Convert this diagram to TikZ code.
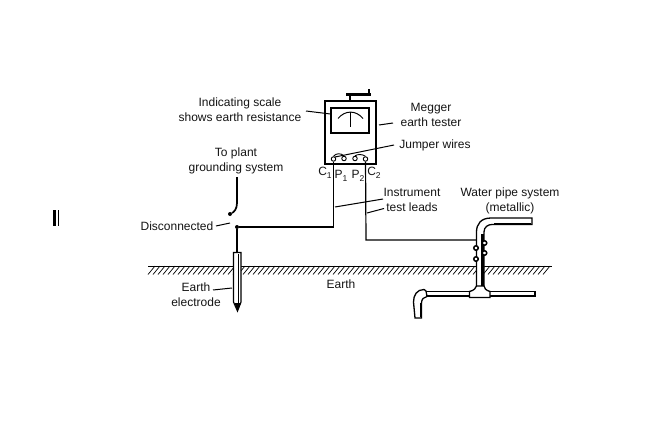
\documentclass[tikz,border=0pt]{standalone}
\usepackage{fontspec}
\setmainfont{Liberation Sans}
\usetikzlibrary{calc}
\newcommand{\lowsub}[1]{\raisebox{-2.5pt}{\fontsize{8.5}{9}\selectfont #1}}
\tikzset{
 lbl/.style={inner sep=0pt,align=center,font=\fontsize{12}{15}\selectfont,text=black!92},
 tlbl/.style={lbl,anchor=base},
 ptr/.style={line width=1pt,black},
 wire/.style={line width=1.2pt,black},
 heavy/.style={line width=1.7pt,black},
 pipe/.style={line width=1.3pt,black,fill=white},
 hatch/.style={line width=.7pt,black},
 term/.style={circle,draw,line width=.9pt,fill=white,minimum size=4.5pt,inner sep=0pt},
 clamp/.style={circle,draw,line width=1.5pt,fill=white,minimum size=4.5pt,inner sep=0pt},
 dotn/.style={circle,fill=black,minimum size=4pt,inner sep=0pt},
}
\begin{document}
\begin{tikzpicture}[x=1pt,y=-1pt]
\useasboundingbox (0,0) rectangle (670,436);
% stray mark
\fill[black] (53,210) rectangle (56,226);
\fill[black] (58,210) rectangle (59,226);
% ground
\draw[line width=1pt] (148,266) -- (552,266);
\foreach \x in {148,153,...,545}{\draw[hatch] (\x,274.5) -- (\x+7,266);}
% crank
\draw[line width=2pt] (350,101) -- (350,94);
\draw[line width=2.6pt] (346,94.5) -- (371,94.5);
\draw[line width=1.8pt] (369,95) -- (369,89);
% meter
\node[draw,line width=1.3pt,fill=white,minimum width=51pt,minimum height=63pt,inner sep=0pt] (meter) at (350.5,132.5) {};
\node[draw,line width=1.3pt,minimum width=38pt,minimum height=25pt,inner sep=0pt] (win) at (350,120.5) {};
\draw[line width=1pt] (338,118.5) .. controls (345,110) and (356,110) .. (363,118.5);
\draw[line width=1pt] (350,112.5) -- (350,127);
% terminals
\node[term] (c1) at (333.5,159) {};
\node[term] (p1) at (344,158.5) {};
\node[term] (p2) at (355,158.5) {};
\node[term] (c2) at (365.5,159) {};
\draw[line width=.9pt] (c1.north) .. controls (336,153) and (341,153) .. (p1.north);
\draw[line width=.9pt] (p2.north) .. controls (358,154) and (362,154) .. (c2.north);
% electrode
\coordinate (tip) at (237.5,311);
\draw[line width=1.2pt,fill=white] (233.5,252.5) -- (241,252.5) -- (241,302) -- (tip) -- (233.5,302) -- cycle;
\draw[line width=1.6pt] (238.5,254) -- (238.5,303);
\fill (tip) -- (234.5,303) -- (241,303) -- cycle;
% disconnected wires
\node[dotn] (top) at (237,227) {};
\coordinate (elec) at (237,252);
\node[dotn] (gnd) at (230,214) {};
\coordinate (plant) at (237,177);
\draw[heavy] (plant) -- (237,203) .. controls (237,209) and (234,212) .. (gnd);
\coordinate (lc) at (333.5,227);
\coordinate (rc) at (366,240);
\coordinate (pp) at (477,240);
\draw[wire] (top) -- (elec);
\draw[wire] (c1) -- (lc) -- (top);
\draw[wire] (c2) -- (rc) -- (pp);
% upper pipe
\draw[pipe] (484,291) -- (484,232) .. controls (484,227) and (488,224.5) .. (492,224.5) -- (532,224.5) -- (532,218) -- (491,218) .. controls (481,218) and (476.5,224) .. (476.5,232) -- (476.5,291);
\draw[line width=1.8pt] (494,223.5) -- (531,223.5);
\draw[line width=2.4pt] (482.5,234) -- (482.5,290);
% clamps
\node[clamp] (k1) at (484.5,243) {};
\node[clamp] (k2) at (476,248) {};
\node[clamp] (k3) at (484.5,253) {};
\node[clamp] (k4) at (476,259) {};
% T and lower pipe
\draw[pipe] (425,291.5) -- (535,291.5) -- (535,296.5) -- (425,296.5);
\draw[line width=1.8pt] (426,295.5) -- (534,295.5);
\draw[pipe] (469.5,297.5) -- (469.5,291.5) .. controls (474,290.5) and (476,288) .. (476.5,286) -- (484,286) .. controls (484,288) and (486,290.5) .. (490,291.5) -- (490,297.5) -- cycle;
\draw[pipe] (426,291) -- (424,289.5) .. controls (417,289.5) and (413.5,295) .. (413.5,302) -- (415,318) -- (421.5,318) -- (421.5,303) .. controls (421.5,299) and (424,297) .. (427,296.5) -- cycle;
\draw[line width=1.8pt] (420.5,303) -- (420.5,317);
% labels
\node[lbl] (l1) at (240,110) {Indicating scale\\shows earth resistance};
\node[lbl] (l2) at (431,115) {Megger\\earth tester};
\node[lbl] (l3) at (435,145) {Jumper wires};
\node[lbl] (l4) at (236,161) {To plant\\grounding system};
\node[lbl] (l5) at (177,226) {Disconnected};
\node[lbl] (l6) at (412,200) {Instrument\\test leads};
\node[lbl] (l7) at (510,200.5) {Water pipe system\\(metallic)};
\node[lbl] (l8) at (341,284) {Earth};
\node[lbl] (l9) at (196,295) {Earth\\electrode};
\node[tlbl] at (325,175.5) {C\lowsub{1}};
\node[tlbl] at (341,178.5) {P\lowsub{1}};
\node[tlbl] at (358,178.5) {P\lowsub{2}};
\node[tlbl] at (374,175.5) {C\lowsub{2}};
% pointers
\coordinate (a1) at (330.5,114);
\coordinate (a2) at (379,125);
\coordinate (a3) at (335,157);
\coordinate (a5) at (230,223);
\coordinate (a6) at (335,207);
\coordinate (a7) at (367,213);
\coordinate (a9) at (232,288);
\draw[ptr] (306,111) -- (a1);
\draw[ptr] (393,123) -- (a2);
\draw[ptr] (394,145) -- (a3);
\draw[ptr] (216,226) -- (a5);
\draw[ptr] (383,199) -- (a6);
\draw[ptr] (384,208.5) -- (a7);
\draw[ptr] (213,290) -- (a9);
\end{tikzpicture}
\end{document}
